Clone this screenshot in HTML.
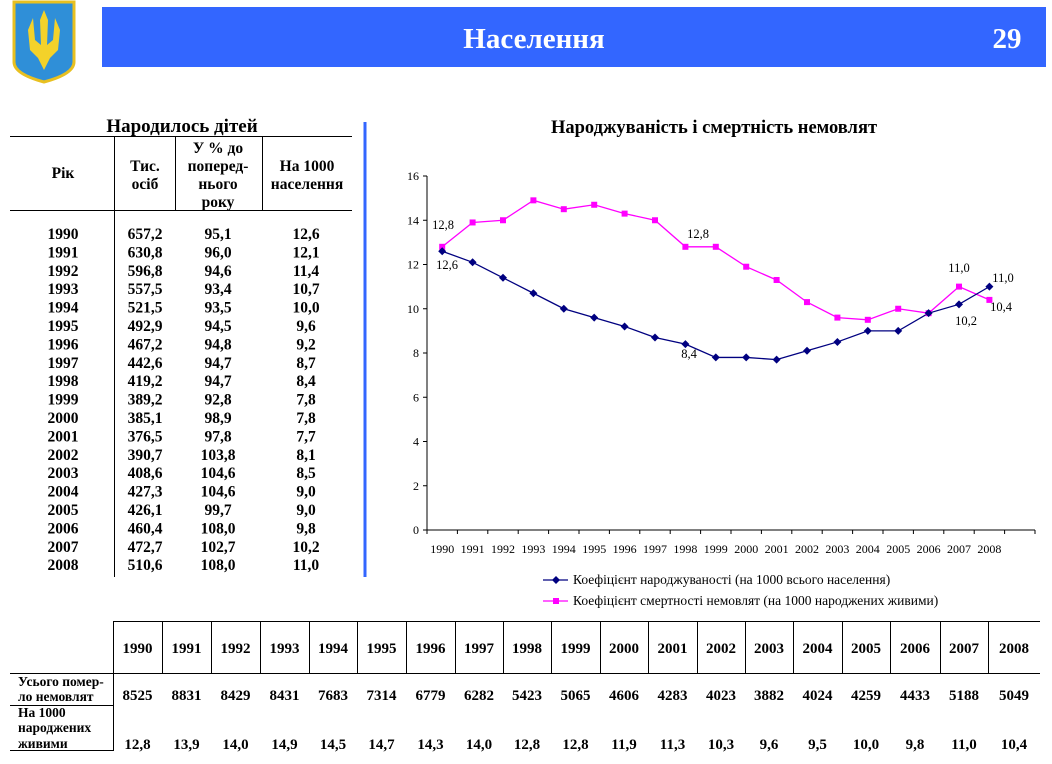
<!DOCTYPE html>
<html><head><meta charset="utf-8"><style>
body{margin:0;background:#fff;width:1052px;height:759px;overflow:hidden}
svg text{font-family:"Liberation Serif",serif}
</style></head><body>
<svg width="1052" height="759" viewBox="0 0 1052 759" xmlns="http://www.w3.org/2000/svg">
<path d="M14 2 H74 V62 Q74 74 44 82 Q14 74 14 62 Z" fill="#2f8fd8" stroke="#e8c020" stroke-width="3"/>
<path d="M44 10 L40 20 L41 45 L35 40 L33 18 L28 30 L30 50 L38 58 L44 70 L50 58 L58 50 L60 30 L55 18 L53 40 L47 45 L48 20 Z" fill="#f3d22a"/>
<rect x="102" y="7" width="944" height="60" fill="#3366ff"/>
<text x="534" y="48" fill="#fff" font-size="29" font-weight="bold" text-anchor="middle">Населення</text>
<text x="1007" y="48" fill="#fff" font-size="29" font-weight="bold" text-anchor="middle">29</text>

<text x="182" y="132" font-size="19" font-weight="bold" text-anchor="middle">Народилось дітей</text>
<line x1="10" y1="136.5" x2="352" y2="136.5" stroke="#000"/>
<line x1="10" y1="210.5" x2="352" y2="210.5" stroke="#000"/>
<line x1="114.5" y1="136" x2="114.5" y2="577" stroke="#000"/>
<line x1="175.5" y1="136" x2="175.5" y2="210" stroke="#000"/>
<line x1="262.5" y1="136" x2="262.5" y2="210" stroke="#000"/>
<g font-size="15.5" font-weight="bold" text-anchor="middle">
<text x="63" y="178">Рік</text>
<text x="145" y="171">Тис.</text><text x="145" y="189">осіб</text>
<text x="218" y="153">У % до</text><text x="218" y="171">поперед-</text><text x="218" y="189">нього</text><text x="218" y="207">року</text>
<text x="307" y="171">На 1000</text><text x="307" y="189">населення</text>
</g>
<g font-size="15.5" font-weight="bold" text-anchor="middle" id="lt"></g>

<line x1="365" y1="122" x2="365" y2="577" stroke="#3366ff" stroke-width="3"/>

<text x="714" y="133" font-size="18.5" font-weight="bold" text-anchor="middle">Народжуваність і смертність немовлят</text>
<g id="chart" font-size="12"></g>

<g id="bt" font-size="15" font-weight="bold" text-anchor="middle"></g>
<g font-size="13.5" font-weight="bold">
<text x="18" y="686">Усього помер-</text><text x="18" y="701">ло немовлят</text>
<text x="18" y="717">На 1000</text><text x="18" y="732">народжених</text><text x="18" y="748">живими</text>
</g>
</svg>
<script>
const NS="http://www.w3.org/2000/svg";
function el(p,t,a,txt){const e=document.createElementNS(NS,t);for(const k in a)e.setAttribute(k,a[k]);if(txt!==undefined)e.textContent=txt;p.appendChild(e);return e;}
const yrs=[];for(let y=1990;y<=2008;y++)yrs.push(y);
const tis=["657,2","630,8","596,8","557,5","521,5","492,9","467,2","442,6","419,2","389,2","385,1","376,5","390,7","408,6","427,3","426,1","460,4","472,7","510,6"];
const pct=["95,1","96,0","94,6","93,4","93,5","94,5","94,8","94,7","94,7","92,8","98,9","97,8","103,8","104,6","104,6","99,7","108,0","102,7","108,0"];
const b=[12.6,12.1,11.4,10.7,10.0,9.6,9.2,8.7,8.4,7.8,7.8,7.7,8.1,8.5,9.0,9.0,9.8,10.2,11.0];
const m=[12.8,13.9,14.0,14.9,14.5,14.7,14.3,14.0,12.8,12.8,11.9,11.3,10.3,9.6,9.5,10.0,9.8,11.0,10.4];
const fmt=v=>v.toFixed(1).replace('.',',');
const lt=document.getElementById('lt');
yrs.forEach((y,i)=>{const yy=239+i*18.4;
el(lt,'text',{x:63,y:yy},y);el(lt,'text',{x:145,y:yy},tis[i]);el(lt,'text',{x:218,y:yy},pct[i]);el(lt,'text',{x:306,y:yy},fmt(b[i]));});
const c=document.getElementById('chart');
const X0=427,Y0=530,sy=22.125,cw=30.4;
const px=i=>X0+cw/2+i*cw, py=v=>Y0-v*sy;
el(c,'line',{x1:X0,y1:176,x2:X0,y2:Y0,stroke:'#000'});
el(c,'line',{x1:X0,y1:Y0,x2:X0+20*cw,y2:Y0,stroke:'#000'});
for(let v=0;v<=16;v+=2){el(c,'line',{x1:X0-4,y1:py(v),x2:X0,y2:py(v),stroke:'#000'});el(c,'text',{x:419,y:py(v)+4,'text-anchor':'end'},v);}
for(let i=0;i<=20;i++)el(c,'line',{x1:X0+i*cw,y1:Y0,x2:X0+i*cw,y2:Y0+4,stroke:'#000'});
yrs.forEach((y,i)=>el(c,'text',{x:px(i),y:553,'text-anchor':'middle','font-size':12},y));
el(c,'polyline',{points:m.map((v,i)=>px(i)+','+py(v)).join(' '),fill:'none',stroke:'#ff00ff','stroke-width':1.3});
el(c,'polyline',{points:b.map((v,i)=>px(i)+','+py(v)).join(' '),fill:'none',stroke:'#000080','stroke-width':1.3});
m.forEach((v,i)=>el(c,'rect',{x:px(i)-3,y:py(v)-3,width:6,height:6,fill:'#ff00ff'}));
b.forEach((v,i)=>{const x=px(i),y=py(v);el(c,'path',{d:`M${x} ${y-4}L${x+4} ${y}L${x} ${y+4}L${x-4} ${y}Z`,fill:'#000080'});});
[[443,229,'12,8'],[447,269,'12,6'],[698,238,'12,8'],[689,358,'8,4'],[959,272,'11,0'],[1003,282,'11,0'],[1001,311,'10,4'],[966,325,'10,2']].forEach(a=>el(c,'text',{x:a[0],y:a[1],'text-anchor':'middle','font-size':12.5},a[2]));
el(c,'line',{x1:543,y1:580,x2:568,y2:580,stroke:'#000080','stroke-width':1.3});
el(c,'path',{d:'M556 576L560 580L556 584L552 580Z',fill:'#000080'});
el(c,'text',{x:573,y:584,'font-size':13.5},'Коефіцієнт народжуваності (на 1000 всього населення)');
el(c,'line',{x1:543,y1:601,x2:568,y2:601,stroke:'#ff00ff','stroke-width':1.3});
el(c,'rect',{x:553,y:598,width:6,height:6,fill:'#ff00ff'});
el(c,'text',{x:573,y:605,'font-size':13.5},'Коефіцієнт смертності немовлят (на 1000 народжених живими)');
const bt=document.getElementById('bt');
const cols=[113,162,211,260,309,357,406,455,503,551,600,648,697,745,793,842,890,940,988,1040];
const tot=[8525,8831,8429,8431,7683,7314,6779,6282,5423,5065,4606,4283,4023,3882,4024,4259,4433,5188,5049];
el(bt,'line',{x1:113,y1:621.5,x2:1040,y2:621.5,stroke:'#000'});
el(bt,'line',{x1:10,y1:673.5,x2:1040,y2:673.5,stroke:'#000'});
el(bt,'line',{x1:10,y1:705.5,x2:113,y2:705.5,stroke:'#000'});
el(bt,'line',{x1:10,y1:750.5,x2:113,y2:750.5,stroke:'#000'});
el(bt,'line',{x1:113.5,y1:621,x2:113.5,y2:751,stroke:'#000'});
for(let i=1;i<cols.length-1;i++)el(bt,'line',{x1:cols[i]+.5,y1:621,x2:cols[i]+.5,y2:673,stroke:'#000'});
yrs.forEach((y,i)=>{const x=(cols[i]+cols[i+1])/2;
el(bt,'text',{x:x,y:653},y);el(bt,'text',{x:x,y:700},tot[i]);el(bt,'text',{x:x,y:749},fmt(m[i]));});
</script>
</body></html>
